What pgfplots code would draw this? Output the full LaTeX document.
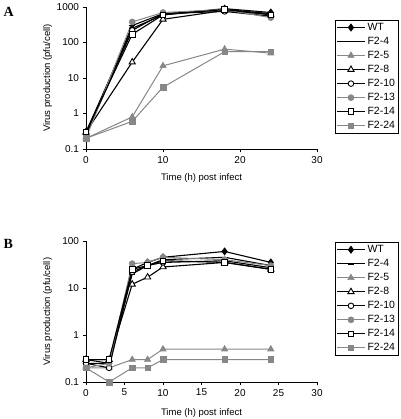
\documentclass[border=0pt]{standalone}
\usepackage{pgfplots}
\pgfplotsset{compat=1.18}
\usepackage{fontspec}
\setmainfont{Liberation Sans}
\newfontfamily\seriffont{Liberation Serif}
\usetikzlibrary{plotmarks}
\definecolor{mgray}{RGB}{135,135,135}
\pgfplotsset{
  myaxis/.style={
    scale only axis, width=231pt,
    xmin=0, xmax=30,
    axis x line*=bottom, axis y line*=left,
    axis line style={-, line width=0.8pt},
    tick align=outside, major tick length=3.5pt,
    tick style={line width=0.8pt, black},
    yminorticks=false,
    /pgf/number format/assume math mode=true,
    tick label style={font=\fontsize{10}{11}\selectfont},
    label style={font=\fontsize{9.5}{11}\selectfont},
    ylabel={Virus production (pfu/cell)},
    xlabel={Time (h) post infect},
    legend cell align=left,
    legend style={draw=black, line width=0.8pt, anchor=north west,
      font=\fontsize{10.5}{11}\selectfont, inner xsep=1pt, inner ysep=1pt,
      row sep=1.2pt},
    legend image code/.code={\draw[mark repeat=2,mark phase=2] plot coordinates {(0pt,0pt) (14pt,0pt) (28pt,0pt)};},
  },
  sWT/.style={black, line width=1.1pt, mark=diamond*, mark size=3.6pt, mark options={fill=black, line width=0.6pt}},
  s4/.style={black, line width=1.1pt, mark=-, mark size=3pt, mark options={line width=1.6pt}},
  s5/.style={mgray, line width=1pt, mark=triangle*, mark size=3.6pt, mark options={fill=mgray, line width=0.6pt}},
  s8/.style={black, line width=1.1pt, mark=triangle*, mark size=3.6pt, mark options={fill=white, line width=0.9pt}},
  s10/.style={black, line width=1.1pt, mark=*, mark size=2.8pt, mark options={fill=white, line width=0.9pt}},
  s13/.style={mgray, line width=1pt, mark=*, mark size=3pt, mark options={fill=mgray, line width=0.6pt}},
  s14/.style={black, line width=1.1pt, mark=square*, mark size=2.8pt, mark options={fill=white, line width=0.9pt}},
  s24/.style={mgray, line width=1pt, mark=square*, mark size=2.8pt, mark options={fill=mgray, line width=0.6pt}},
}
\begin{document}
\begin{tikzpicture}
\useasboundingbox (0pt,0pt) rectangle (400pt,-419pt);
\node[anchor=west, font=\seriffont\bfseries\fontsize{14}{15}\selectfont] at (0pt,-12pt) {A};
\node[anchor=west, font=\seriffont\bfseries\fontsize{14}{15}\selectfont] at (0pt,-244pt) {B};
\begin{axis}[myaxis, ymode=log, height=142pt, at={(86pt,-149pt)}, anchor=south west,
  ymin=0.1, ymax=1000, ytick={0.1,1,10,100,1000}, yticklabels={0.1,1,10,100,1000},
  xtick={0,10,20,30},
  ylabel style={at={(axis description cs:-0.166,0.5)}, anchor=center},
  xlabel style={at={(axis description cs:0.5,-0.204)}, anchor=center},
  legend style={at={(1.078,0.91)}}]
\addplot[sWT] coordinates {(0,0.3) (6,250) (10,600) (18,900) (24,700)};
\addplot[s4] coordinates {(0,0.25) (6,300) (10,650) (18,850) (24,650)};
\addplot[s5] coordinates {(0,0.2) (6,0.8) (10,22) (18,65) (24,50)};
\addplot[s8] coordinates {(0,0.3) (6,28) (10,450) (18,800) (24,620)};
\addplot[s10] coordinates {(0,0.25) (6,220) (10,650) (18,750) (24,550)};
\addplot[s13] coordinates {(0,0.2) (6,380) (10,700) (18,850) (24,500)};
\addplot[s14] coordinates {(0,0.3) (6,170) (10,600) (18,850) (24,600)};
\addplot[s24] coordinates {(0,0.2) (6,0.6) (10,5.5) (18,55) (24,55)};
\legend{WT,F2-4,F2-5,F2-8,F2-10,F2-13,F2-14,F2-24}
\end{axis}
\begin{axis}[myaxis, ymode=log, height=141pt, at={(86pt,-382pt)}, anchor=south west,
  ymin=0.1, ymax=100, ytick={0.1,1,10,100}, yticklabels={0.1,1,10,100},
  xtick={0,5,10,15,20,25,30},
  ylabel style={at={(axis description cs:-0.166,0.5)}, anchor=center},
  xlabel style={at={(axis description cs:0.5,-0.22)}, anchor=center},
  legend style={at={(1.078,0.993)}}]
\addplot[sWT] coordinates {(0,0.3) (3,0.25) (6,25) (8,35) (10,45) (18,60) (24,35)};
\addplot[s4] coordinates {(0,0.25) (3,0.25) (6,20) (8,30) (10,40) (18,45) (24,30)};
\addplot[s5] coordinates {(0,0.2) (3,0.2) (6,0.3) (8,0.3) (10,0.5) (18,0.5) (24,0.5)};
\addplot[s8] coordinates {(0,0.3) (3,0.3) (6,12) (8,17) (10,28) (18,35) (24,25)};
\addplot[s10] coordinates {(0,0.25) (3,0.2) (6,22) (8,30) (10,35) (18,38) (24,27)};
\addplot[s13] coordinates {(0,0.2) (3,0.25) (6,33) (8,35) (10,45) (18,40) (24,30)};
\addplot[s14] coordinates {(0,0.3) (3,0.3) (6,25) (8,30) (10,38) (18,35) (24,25)};
\addplot[s24] coordinates {(0,0.2) (3,0.1) (6,0.2) (8,0.2) (10,0.3) (18,0.3) (24,0.3)};
\legend{WT,F2-4,F2-5,F2-8,F2-10,F2-13,F2-14,F2-24}
\end{axis}
\end{tikzpicture}
\end{document}
